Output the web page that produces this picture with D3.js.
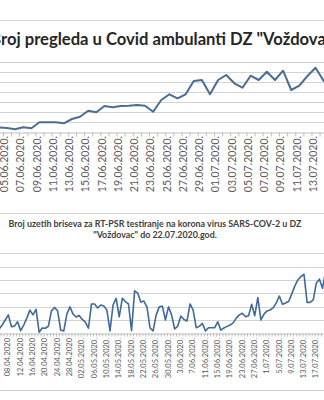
<!DOCTYPE html>
<html><head><meta charset="utf-8">
<script src="https://cdn.jsdelivr.net/npm/d3@7"></script>
<style>body{margin:0;background:#fff;overflow:hidden} svg{display:block}</style>
</head><body>
<script>
// ---------- Chart 1 data ----------
const topTitle = "Broj pregleda u Covid ambulanti DZ \"Voždovac\"";
const topDates = ["04.06.2020.","05.06.2020.","06.06.2020.","07.06.2020.","08.06.2020.","09.06.2020.","10.06.2020.","11.06.2020.","12.06.2020.","13.06.2020.","14.06.2020.","15.06.2020.","16.06.2020.","17.06.2020.","18.06.2020.","19.06.2020.","20.06.2020.","21.06.2020.","22.06.2020.","23.06.2020.","24.06.2020.","25.06.2020.","26.06.2020.","27.06.2020.","28.06.2020.","29.06.2020.","30.06.2020.","01.07.2020.","02.07.2020.","03.07.2020.","04.07.2020.","05.07.2020.","06.07.2020.","07.07.2020.","08.07.2020.","09.07.2020.","10.07.2020.","11.07.2020.","12.07.2020.","13.07.2020.","14.07.2020.","15.07.2020."];
const topValues = [47,40,27,47,37,97,97,97,87,130,153,213,197,260,247,260,263,270,263,203,320,377,337,377,510,520,377,520,570,487,443,563,520,603,520,613,420,463,560,643,510,570];
const topTickLabels = ["05.06.2020.","07.06.2020.","09.06.2020.","11.06.2020.","13.06.2020.","15.06.2020.","17.06.2020.","19.06.2020.","21.06.2020.","23.06.2020.","25.06.2020.","27.06.2020.","29.06.2020.","01.07.2020.","03.07.2020.","05.07.2020.","07.07.2020.","09.07.2020.","11.07.2020.","13.07.2020.","15.07.2020."];
const topGrid = [100,200,300,400,500,600,700];

// ---------- Chart 2 data ----------
const botTitle1 = "Broj uzetih briseva za RT-PSR testiranje na korona virus SARS-COV-2 u DZ";
const botTitle2 = "\"Voždovac\" do 22.07.2020.god.";
const botStart = new Date(2020, 3, 5);
const botValues = [16,31,50,69,25,27,43,10,31,57,87,69,90,4,20,19,27,84,97,84,12,9,72,99,72,61,67,52,42,19,110,110,95,106,102,87,9,106,131,62,131,119,110,10,159,151,117,121,99,20,9,69,99,102,50,99,69,16,27,65,52,46,110,87,21,26,37,9,21,21,21,43,12,20,26,31,39,57,69,75,62,66,109,66,134,50,72,84,87,96,114,140,109,114,119,147,177,200,213,221,116,116,125,189,203,169,231];
const botTickLabels = ["08.04.2020","12.04.2020","16.04.2020","20.04.2020","24.04.2020","28.04.2020","02.05.2020.","06.05.2020.","10.05.2020.","14.05.2020.","18.05.2020.","22.05.2020.","26.05.2020.","30.05.2020.","3.06.2020.","7.06.2020.","11.06.2020.","15.06.2020.","19.06.2020.","23.06.2020.","27.06.2020.","1.07.2020.","5.07.2020.","9.07.2020.","13.07.2020.","17.07.2020."];
const botGrid = [50,100,150,200,250,300];

// ---------- helpers ----------
const W = 324, H = 400;
const svg = d3.select("body").append("svg").attr("width", W).attr("height", H);
const gridColor = "#d4d4d4", axisColor = "#bfbfbf", labelColor = "#595959";
const FONT = "Lato, 'Open Sans', sans-serif";

// chart frames
svg.append("line").attr("x1",0).attr("x2",W).attr("y1",20.5).attr("y2",20.5).attr("stroke",gridColor);
svg.append("line").attr("x1",0).attr("x2",W).attr("y1",213.5).attr("y2",213.5).attr("stroke",gridColor);
svg.append("line").attr("x1",0).attr("x2",W).attr("y1",390.5).attr("y2",390.5).attr("stroke",gridColor);

// ---------- Chart 1 ----------
const t1 = svg.append("text").attr("y", 45).attr("font-family", FONT).attr("font-weight", 700)
  .attr("font-size", 16.6).attr("fill", "#262626").text(topTitle);
const bW = t1.node().getSubStringLength(0, 1);
t1.attr("x", 1 - bW);

const x1 = d3.scalePoint().domain(topDates).range([7 - 8.12, 7 + 8.12 * (topDates.length - 2)]);
const y1 = d3.scaleLinear().domain([0, 700]).range([132, 62]);

svg.append("g").selectAll("line").data(topGrid).join("line")
  .attr("x1", 0).attr("x2", W).attr("y1", d => Math.round(y1(d)) + 0.5).attr("y2", d => Math.round(y1(d)) + 0.5)
  .attr("stroke", gridColor).attr("stroke-width", 1.2);

const ax1 = svg.append("g").attr("transform", `translate(0,${Math.round(y1(0)) + 0.5})`)
  .call(d3.axisBottom(x1).tickValues(topDates).tickSize(4).tickFormat(""));
ax1.select(".domain").attr("stroke", axisColor);
ax1.selectAll(".tick line").attr("stroke", axisColor).attr("transform", "translate(4,0)");

const lab1 = svg.append("g").attr("transform", `translate(0,${Math.round(y1(0))})`)
  .call(d3.axisBottom(x1).tickValues(topTickLabels).tickSize(0));
lab1.select(".domain").remove();
lab1.selectAll("text").attr("transform", "rotate(-90)").attr("x", -4).attr("y", -3).attr("dy", "0.35em")
  .attr("text-anchor", "end").attr("font-family", FONT).attr("font-size", 10.5).attr("fill", labelColor);

svg.append("path").datum(topValues)
  .attr("fill", "none").attr("stroke", "#4a6d94").attr("stroke-width", 2).attr("stroke-linejoin", "round")
  .attr("d", d3.line().x((d, i) => x1(topDates[i])).y(d => y1(d)));

// ---------- Chart 2 ----------
const fmt = d3.timeFormat("%d.%m.%Y");
const botDates = botValues.map((d, i) => fmt(d3.timeDay.offset(botStart, i)));
const botTickDates = botTickLabels.map(s => {
  const p = s.replace(/\.$/, "").split(".");
  return fmt(new Date(+p[2], +p[1] - 1, +p[0]));
});

svg.append("text").attr("x", 155).attr("y", 227).attr("text-anchor", "middle").attr("font-family", FONT)
  .attr("font-weight", 700).attr("font-size", 8.9).attr("fill", "#404040").text(botTitle1);
svg.append("text").attr("x", 155).attr("y", 237.5).attr("text-anchor", "middle").attr("font-family", FONT)
  .attr("font-weight", 700).attr("font-size", 8.9).attr("fill", "#404040").text(botTitle2);

const x2 = d3.scalePoint().domain(botDates).range([-0.9, -0.9 + 3.08 * (botDates.length - 1)]);
const y2 = d3.scaleLinear().domain([0, 300]).range([333.3, 253.3]);

svg.append("g").selectAll("line").data(botGrid).join("line")
  .attr("x1", 0).attr("x2", W).attr("y1", d => Math.round(y2(d)) + 0.5).attr("y2", d => Math.round(y2(d)) + 0.5)
  .attr("stroke", gridColor).attr("stroke-width", 1.2);

const ax2 = svg.append("g").attr("transform", `translate(0,${Math.round(y2(0)) + 0.5})`)
  .call(d3.axisBottom(x2).tickValues(botDates).tickSize(3).tickFormat(""));
ax2.select(".domain").attr("stroke", axisColor);
ax2.selectAll(".tick line").attr("stroke", axisColor).attr("transform", "translate(1.5,0)");

const lab2 = svg.append("g").attr("transform", `translate(0,${Math.round(y2(0))})`)
  .call(d3.axisBottom(x2).tickValues(botTickDates).tickSize(0)
    .tickFormat((d) => botTickLabels[botTickDates.indexOf(d)]));
lab2.select(".domain").remove();
lab2.selectAll("text").attr("transform", "rotate(-90)").attr("x", -5).attr("y", -1).attr("dy", "0.35em")
  .attr("text-anchor", "end").attr("font-family", FONT).attr("font-size", 7.5).attr("fill", labelColor);

svg.append("path").datum(botValues)
  .attr("fill", "none").attr("stroke", "#3f6a99").attr("stroke-width", 1.6).attr("stroke-linejoin", "round")
  .attr("d", d3.line().x((d, i) => x2(botDates[i])).y(d => y2(d)));
</script>
</body></html>
